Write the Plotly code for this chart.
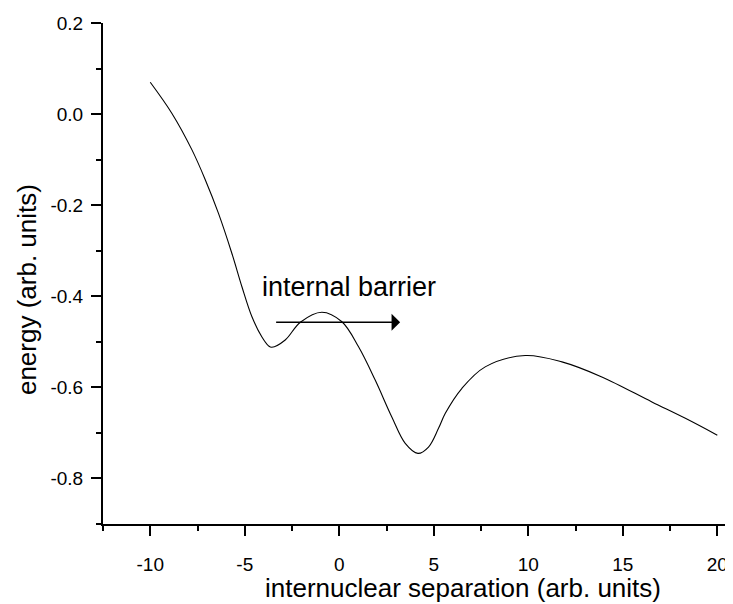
import plotly.graph_objects as go

# curve
sep = [-10.0, -8.86, -7.80, -7.09, -6.39, -5.68, -5.15, -4.62, -4.10, -3.74, -3.57,
       -2.86, -2.06, -0.92, 0.14, 1.02, 1.90, 2.78, 3.49, 4.16, 4.72, 5.25, 5.61,
       6.49, 7.72, 9.84, 11.78, 13.89, 16.54, 18.31, 20.0]
energy = [0.070, 0.002, -0.078, -0.144, -0.218, -0.306, -0.379, -0.445, -0.489, -0.509, -0.512,
          -0.496, -0.457, -0.435, -0.456, -0.511, -0.584, -0.665, -0.723, -0.745, -0.731, -0.690, -0.657,
          -0.602, -0.555, -0.530, -0.544, -0.577, -0.632, -0.668, -0.705]

x_tickvals = [-10, -5, 0, 5, 10, 15, 20]
x_ticktext = ["-10", "-5", "0", "5", "10", "15", "20"]
y_tickvals = [0.2, 0.0, -0.2, -0.4, -0.6, -0.8]
y_ticktext = ["0.2", "0.0", "-0.2", "-0.4", "-0.6", "-0.8"]

arrow_start = (-3.42, -0.457)
arrow_end = (3.22, -0.457)
label_text = "internal barrier"
label_pos = (0.49, -0.380)

FONT = "Liberation Sans, Arial, Helvetica, sans-serif"

fig = go.Figure()
fig.add_trace(go.Scatter(x=sep, y=energy, mode="lines",
                         line=dict(color="black", width=1.1, shape="spline", smoothing=1.0),
                         showlegend=False, hoverinfo="skip"))

axis_common = dict(showline=True, linecolor="black", linewidth=2, ticks="outside",
                   ticklen=10, tickwidth=2, tickcolor="black", showgrid=False, zeroline=False,
                   automargin=False,
                   tickfont=dict(family=FONT, size=19, color="black"))

fig.update_xaxes(range=[-12.5, 20.83], tickmode="array", tickvals=x_tickvals, ticktext=x_ticktext,
                 minor=dict(ticks="outside", ticklen=5, tickwidth=2, tickcolor="black",
                            tickmode="linear", tick0=-12.5, dtick=5),
                 ticklabelstandoff=12, **axis_common)
fig.update_yaxes(range=[-0.9, 0.2], tickmode="array", tickvals=y_tickvals, ticktext=y_ticktext,
                 minor=dict(ticks="outside", ticklen=5, tickwidth=2, tickcolor="black",
                            tickmode="linear", tick0=-0.9, dtick=0.2),
                 ticklabelstandoff=4, **axis_common)

fig.add_annotation(x=arrow_end[0], y=arrow_end[1], ax=arrow_start[0], ay=arrow_start[1],
                   xref="x", yref="y", axref="x", ayref="y", text="", showarrow=True,
                   arrowhead=1, arrowsize=2.2, arrowwidth=1.3, arrowcolor="black")
fig.add_annotation(x=label_pos[0], y=label_pos[1], xref="x", yref="y", text=label_text,
                   showarrow=False, font=dict(family=FONT, size=27, color="black"))

fig.add_annotation(x=0.571, y=-0.1277, xref="paper", yref="paper", text="internuclear separation (arb. units)",
                   xanchor="center", yanchor="middle",
                   showarrow=False, font=dict(family=FONT, size=26, color="black"))
fig.add_annotation(x=-0.1206, y=0.467, xref="paper", yref="paper", text="energy (arb. units)",
                   xanchor="center", yanchor="middle",
                   textangle=-90, showarrow=False, font=dict(family=FONT, size=26, color="black"))

# the page body has an 8px margin, so the figure is offset by that amount
fig.update_layout(width=725, height=596, margin=dict(l=95, r=0, t=15, b=80),
                  plot_bgcolor="white", paper_bgcolor="white")

fig.write_html("out.html")
